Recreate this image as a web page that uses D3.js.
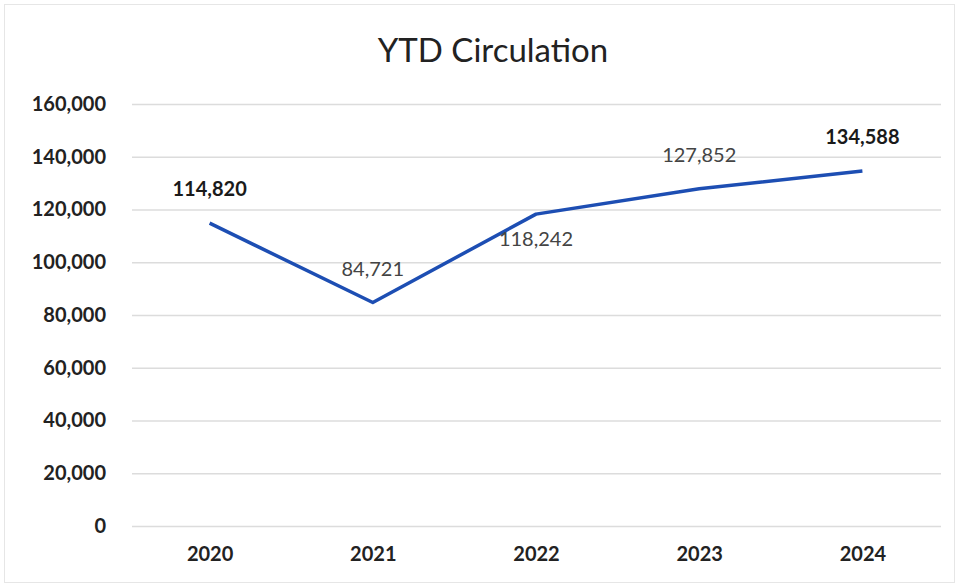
<!DOCTYPE html>
<html><head><meta charset="utf-8">
<script src="https://cdn.jsdelivr.net/npm/d3@7"></script>
<style>body{margin:0;background:#fff}svg{display:block}</style>
</head><body>
<svg id="c" width="960" height="585"></svg>
<script>
const years = ["2020","2021","2022","2023","2024"];
const circulation = [114820, 84721, 118242, 127852, 134588];
const labelBold = [true, false, false, false, true];
const labelBelow = [false, false, true, false, false];
const yTicks = [0,20000,40000,60000,80000,100000,120000,140000,160000];

(function(){
const svg = d3.select("#c");
const font = "Lato, 'Open Sans', sans-serif";
svg.append("rect").attr("x",4.5).attr("y",4.5).attr("width",950).attr("height",578)
  .attr("fill","#fff").attr("stroke","#e6e6e6");

const mLeft=132, mRight=941, mTop=104, mBottom=526;
const x = d3.scalePoint().domain(years).range([128,944]).padding(0.5);
const y = d3.scaleLinear().domain([0,160000]).range([mBottom,mTop]);

svg.append("text").attr("x",493).attr("y",62).attr("text-anchor","middle")
  .attr("font-family",font).attr("font-size",33).attr("fill","#222").text("YTD Circulation");

const ya = svg.append("g").attr("transform",`translate(${mLeft},0)`)
  .call(d3.axisLeft(y).tickValues(yTicks).tickSize(-(mRight-mLeft)).tickPadding(26).tickFormat(d3.format(",")));
ya.select(".domain").remove();
ya.selectAll(".tick line").attr("stroke","#dcdcdc").attr("stroke-width",1.5);
ya.selectAll(".tick text").attr("font-family",font).attr("font-size",20).attr("font-weight","bold").attr("fill","#222");

const xa = svg.append("g").attr("transform",`translate(0,${mBottom})`)
  .call(d3.axisBottom(x).tickSize(0).tickPadding(21));
xa.select(".domain").remove();
xa.selectAll(".tick text").attr("font-family",font).attr("font-size",20).attr("font-weight","bold").attr("fill","#222");

const data = years.map((yr,i)=>({yr, v:circulation[i], b:labelBold[i], below:labelBelow[i]}));
svg.append("path").datum(data)
  .attr("d", d3.line().x(d=>x(d.yr)).y(d=>y(d.v)))
  .attr("fill","none").attr("stroke","#1d4eb3").attr("stroke-width",3.5).attr("stroke-linejoin","round");

svg.selectAll(".lbl").data(data).enter().append("text")
  .attr("x",d=>x(d.yr)).attr("y",d=>d.below? y(d.v)+32 : y(d.v)-27)
  .attr("text-anchor","middle").attr("font-family",font).attr("font-size",20)
  .attr("font-weight",d=>d.b?"bold":"normal").attr("fill",d=>d.b?"#1a1a1a":"#444")
  .text(d=>d3.format(",")(d.v));
})();
</script>
</body></html>
